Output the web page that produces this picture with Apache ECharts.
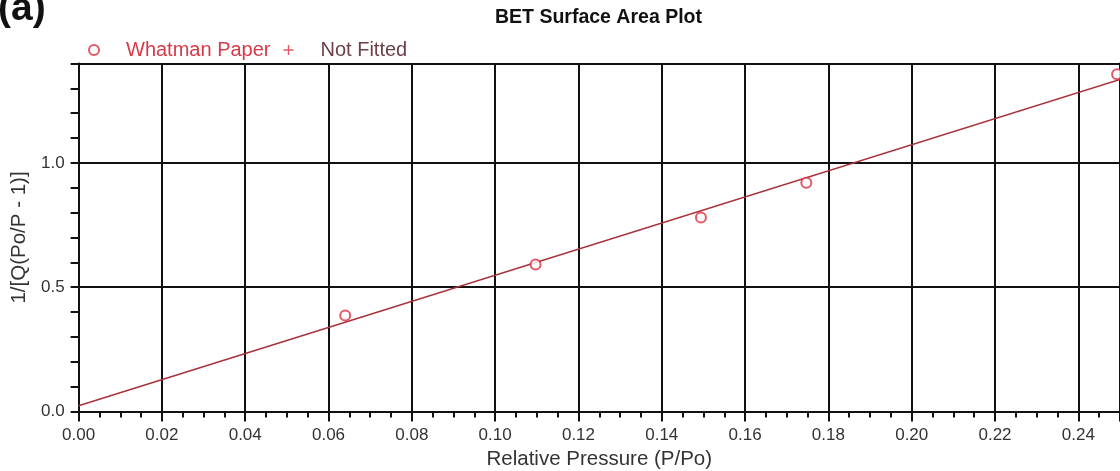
<!DOCTYPE html>
<html>
<head>
<meta charset="utf-8">
<script src="https://cdn.jsdelivr.net/npm/echarts@6/dist/echarts.min.js"></script>
<style>html,body{margin:0;padding:0;background:#fff;}#chart{width:1120px;height:471px;}</style>
</head>
<body>
<div id="chart"></div>
<script>
// Measured data (Whatman Paper BET points)
const relPressure = [0.064, 0.1097, 0.1494, 0.1747, 0.2493];
const betValue = [0.386, 0.591, 0.780, 0.920, 1.357];
// Fitted line end points
const fitX = [0, 0.25];
const fitY = [0.023, 1.336];
// Labelled y ticks
const yLabelTicks = [0.0, 0.5, 1.0];

const FONT = "'Liberation Sans', Arial, sans-serif";
const chart = echarts.init(document.getElementById('chart'));
const plusIcon = 'path://M4.3,0H5.7V4.3H10V5.7H5.7V10H4.3V5.7H0V4.3H4.3Z';

chart.setOption({
  animation: false,
  backgroundColor: '#fff',
  textStyle: { fontFamily: FONT },
  title: {
    text: 'BET Surface Area Plot',
    left: 495, top: 8, padding: 0,
    textStyle: { fontSize: 19.5, fontWeight: 'bold', color: '#111', fontFamily: FONT }
  },
  graphic: [{
    type: 'text', x: -2, y: 29,
    style: { text: '(a)', fontSize: 39, fontWeight: 'bold', fontFamily: FONT, fill: '#111', verticalAlign: 'bottom' }
  }],
  legend: {
    left: 88, top: 40, padding: 0,
    itemWidth: 10, itemHeight: 10, itemGap: 13,
    selectedMode: false,
    data: [
      { name: 'Whatman Paper', icon: 'emptyCircle', textStyle: { color: '#d63a48' } },
      { name: 'Not Fitted', icon: plusIcon, textStyle: { color: '#6b4048' } }
    ],
    textStyle: { fontSize: 20, fontFamily: FONT, padding: [0, 0, 0, 22] }
  },
  grid: { left: 78.6, top: 63.5, right: 0, bottom: 59.5, containLabel: false, outerBoundsMode: 'none' },
  xAxis: [{
    type: 'value', position: 'bottom', min: 0, max: 0.25, interval: 0.02,
    name: 'Relative Pressure (P/Po)', nameLocation: 'middle', nameGap: 35,
    nameTextStyle: { fontSize: 20.5, color: '#333', fontFamily: FONT },
    axisLine: { show: true, onZero: false, lineStyle: { color: '#111', width: 2 } },
    axisTick: { show: true, length: 10, lineStyle: { color: '#111', width: 2 } },
    minorTick: { show: true, splitNumber: 4, length: 6, lineStyle: { color: '#111', width: 2 } },
    splitLine: { show: true, lineStyle: { color: '#111', width: 2 } },
    axisLabel: { fontSize: 17, color: '#333', margin: 15, showMaxLabel: false, formatter: v => v.toFixed(2) }
  }, {
    type: 'value', position: 'top', min: 0, max: 0.25, interval: 0.02,
    axisLine: { show: true, onZero: false, lineStyle: { color: '#111', width: 2 } },
    axisTick: { show: false }, axisLabel: { show: false }, splitLine: { show: false }
  }],
  yAxis: [{
    type: 'value', position: 'left', min: 0, max: 1.4, interval: 0.1,
    name: '1/[Q(Po/P - 1)]', nameLocation: 'middle', nameGap: 48,
    nameTextStyle: { fontSize: 20.5, color: '#333', fontFamily: FONT },
    axisLine: { show: true, onZero: false, lineStyle: { color: '#111', width: 2 } },
    axisTick: { show: true, length: 8, lineStyle: { color: '#111', width: 2 } },
    splitLine: { show: false },
    axisLabel: {
      fontSize: 17, color: '#333', margin: 14,
      formatter: v => yLabelTicks.some(t => Math.abs(t - v) < 1e-6) ? v.toFixed(1) : ''
    }
  }, {
    type: 'value', position: 'right', min: 0, max: 1.4, interval: 0.5,
    axisLine: { show: true, onZero: false, lineStyle: { color: '#111', width: 2 } },
    axisTick: { show: false }, axisLabel: { show: false },
    splitLine: { show: true, lineStyle: { color: '#111', width: 2 } }
  }],
  series: [{
    name: 'Fit', type: 'line', xAxisIndex: 0, yAxisIndex: 0,
    data: fitX.map((x, i) => [x, fitY[i]]),
    showSymbol: false, symbol: 'none',
    lineStyle: { color: '#a8323a', width: 1.6 }, z: 3
  }, {
    name: 'Whatman Paper', type: 'scatter', xAxisIndex: 0, yAxisIndex: 0,
    data: relPressure.map((x, i) => [x, betValue[i]]),
    symbol: 'emptyCircle', symbolSize: 10,
    itemStyle: { color: '#dc3040', borderColor: '#dc3040', borderWidth: 1.5 }, z: 4
  }, {
    name: 'Not Fitted', type: 'scatter', xAxisIndex: 0, yAxisIndex: 0,
    data: [], symbol: plusIcon, symbolSize: 10,
    itemStyle: { color: '#dc3040' }
  }]
});
</script>
</body>
</html>
